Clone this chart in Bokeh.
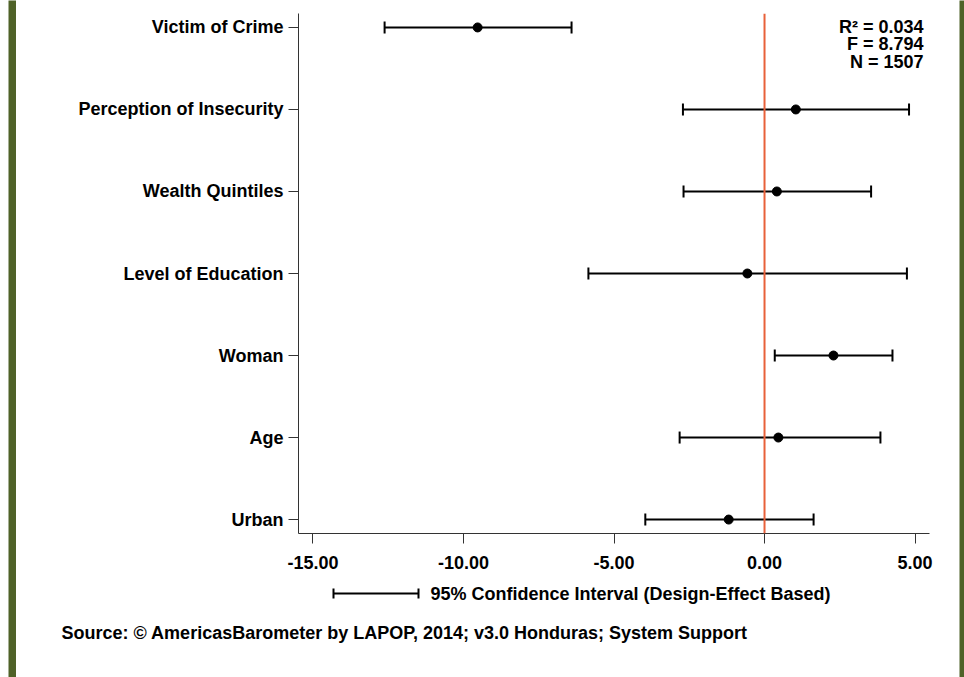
from bokeh.plotting import figure
from bokeh.layouts import row, column
from bokeh.models import (Range1d, FixedTicker, Span, Label, Whisker, TeeHead,
                          ColumnDataSource, Spacer)
from bokeh.core.properties import value
from bokeh.embed import file_html
from bokeh.resources import INLINE

# ---- data ----
labels = ["Victim of Crime", "Perception of Insecurity", "Wealth Quintiles",
          "Level of Education", "Woman", "Age", "Urban"]
coef = [-9.53, 1.04, 0.41, -0.57, 2.29, 0.46, -1.19]
lower = [-12.62, -2.71, -2.69, -5.85, 0.34, -2.82, -3.96]
upper = [-6.41, 4.80, 3.54, 4.73, 4.25, 3.85, 1.63]
x_ticks = [-15, -10, -5, 0, 5]
x_tick_labels = ["-15.00", "-10.00", "-5.00", "0.00", "5.00"]
stats = ["R\u00b2 = 0.034", "F = 8.794", "N = 1507"]
legend_text = "95% Confidence Interval (Design-Effect Based)"
source_text = "Source: \u00a9 AmericasBarometer by LAPOP, 2014; v3.0 Honduras; System Support"

ypos = list(range(len(labels) - 1, -1, -1))

# ---- geometry (page pixels) ----
PAGE_W, PAGE_H = 964, 677
LBAR0, LBAR1 = 8, 16          # left green bar
RBAR0 = 959                   # right green bar start
MAIN_H = 580                  # height of main plot
FL, FR, FT, FB = 298, 929, 13, 533
XMIN, XMAX = -15.48, 5.48
YMIN, YMAX = -0.17, 6.17

CW = RBAR0 - LBAR1            # central column width

FONT = "Liberation Sans"
FS = "18px"
GREEN = "#4F6228"
RED = "#E8613A"

def px_x(px):
    return XMIN + (px - FL) / (FR - FL) * (XMAX - XMIN)

def py_y(py):
    return YMAX - (py - FT) / (FB - FT) * (YMAX - YMIN)

# ---- main plot ----
main = figure(width=CW, height=MAIN_H, output_backend="svg", toolbar_location=None,
              x_range=Range1d(XMIN, XMAX), y_range=Range1d(YMIN, YMAX),
              min_border_left=FL - LBAR1, min_border_right=RBAR0 - FR,
              min_border_top=FT, min_border_bottom=MAIN_H - FB)
main.frame_align = False
main.outline_line_color = None
main.grid.visible = False
main.background_fill_color = "white"
main.border_fill_color = "white"

main.xaxis.ticker = FixedTicker(ticks=x_ticks)
main.xaxis.major_label_overrides = {t: l for t, l in zip(x_ticks, x_tick_labels)}
main.yaxis.ticker = FixedTicker(ticks=ypos)
main.yaxis.major_label_overrides = {y: l for y, l in zip(ypos, labels)}
for ax in (main.xaxis, main.yaxis):
    ax.axis_line_color = "#333333"
    ax.major_tick_line_color = "#333333"
    ax.major_tick_out = 10
    ax.major_tick_in = 0
    ax.minor_tick_line_color = None
    ax.major_label_text_font = FONT
    ax.major_label_text_font_style = "bold"
    ax.major_label_text_font_size = FS
    ax.major_label_text_color = "black"
main.yaxis.major_label_standoff = 5
main.xaxis.major_label_standoff = 12

main.add_layout(Span(location=0, dimension="height", line_color=RED, line_width=2))

src = ColumnDataSource(dict(y=ypos, coef=coef, lower=lower, upper=upper))
main.add_layout(Whisker(source=src, base="y", lower="lower", upper="upper",
                        dimension="width", line_color="black", line_width=2,
                        lower_head=TeeHead(size=12, line_width=2, line_color="black"),
                        upper_head=TeeHead(size=12, line_width=2, line_color="black")))
main.scatter("coef", "y", source=src, size=9, color="black")

for i, s in enumerate(stats):
    main.add_layout(Label(x=px_x(923), y=py_y(26 + 17.5 * i), text=s,
                          text_align="right", text_baseline="middle",
                          text_font=FONT, text_font_style="bold",
                          text_font_size=FS, text_color="black"))

# ---- bottom strip: legend + source ----
bottom = figure(width=CW, height=PAGE_H - MAIN_H, output_backend="svg",
                toolbar_location=None, x_axis_location=None, y_axis_location=None,
                x_range=Range1d(LBAR1, RBAR0), y_range=Range1d(PAGE_H, MAIN_H),
                min_border=0)
bottom.frame_align = False
bottom.outline_line_color = None
bottom.grid.visible = False
bottom.background_fill_color = "white"
bottom.border_fill_color = "white"

LEG_X0, LEG_X1, LEG_Y, CAP = 333, 418, 593, 5
bottom.segment(x0=[LEG_X0], y0=[LEG_Y], x1=[LEG_X1], y1=[LEG_Y], line_width=2, line_color="black")
bottom.segment(x0=[LEG_X0, LEG_X1], y0=[LEG_Y - CAP] * 2, x1=[LEG_X0, LEG_X1],
               y1=[LEG_Y + CAP] * 2, line_width=2, line_color="black")
bottom.text(x=[430], y=[LEG_Y], text=[legend_text], text_align="left",
            text_baseline="middle", text_font=value(FONT), text_font_style="bold",
            text_font_size=value(FS), text_color="black")
bottom.text(x=[61], y=[632], text=[source_text], text_align="left",
            text_baseline="middle", text_font=value(FONT), text_font_style="bold",
            text_font_size=value(FS), text_color="black")

# ---- green side bars ----
def bar(width):
    f = figure(width=width, height=PAGE_H, output_backend="svg", toolbar_location=None,
               x_axis_location=None, y_axis_location=None, min_border=0)
    f.frame_align = False
    f.outline_line_color = None
    f.grid.visible = False
    f.background_fill_color = GREEN
    f.border_fill_color = GREEN
    return f

p = row(Spacer(width=LBAR0, height=PAGE_H), bar(LBAR1 - LBAR0),
        column(main, bottom, spacing=0), bar(PAGE_W - RBAR0), spacing=0)

open("out.html", "w").write(file_html(p, INLINE))
